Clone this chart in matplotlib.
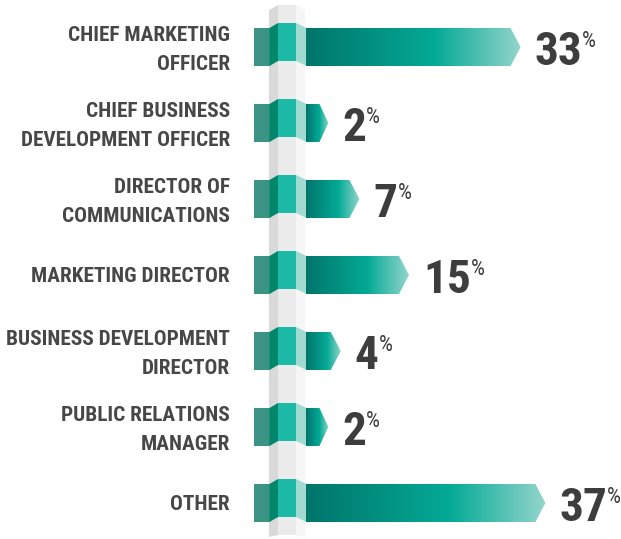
import matplotlib
matplotlib.use('Agg')
import matplotlib.pyplot as plt
import numpy as np
from matplotlib.patches import Polygon, Rectangle
from matplotlib.colors import LinearSegmentedColormap

plt.rcParams['font.family'] = ['Roboto Condensed', 'Liberation Sans Narrow', 'DejaVu Sans']
plt.rcParams['font.stretch'] = 'condensed'

## data
# -------------------------------------------------------------
roles = ['CHIEF MARKETING\nOFFICER',
         'CHIEF BUSINESS\nDEVELOPMENT OFFICER',
         'DIRECTOR OF\nCOMMUNICATIONS',
         'MARKETING DIRECTOR',
         'BUSINESS DEVELOPMENT\nDIRECTOR',
         'PUBLIC RELATIONS\nMANAGER',
         'OTHER']
shares = [33, 2, 7, 15, 4, 2, 37]
# -------------------------------------------------------------

W, H = 621, 539
fig = plt.figure(figsize=(W / 100, H / 100), dpi=100)
ax = fig.add_axes([0, 0, 1, 1])
ax.set_xlim(0, W)
ax.set_ylim(H, 0)
ax.axis('off')

# layout (pixels)
row0, row_step, half = 47, 76, 19
x_bar = 306
px_per_pct, px_min = 6.2, 10

grad = LinearSegmentedColormap.from_list(
    'bar', [(0, '#00756a'), (0.6, '#04aa96'), (1.0, '#93d5cb')])
text_col = '#474747'
num_col = '#3d3d3d'

# pillar behind the ribbons
top, bot = 5, 537
ax.add_patch(Polygon([(269, top + 5), (278, top), (278, bot - 2), (269, bot)],
                     closed=True, fc='#d9d9d9', ec='none', zorder=1))
ax.add_patch(Polygon([(278, top), (296, top), (296, bot - 2), (278, bot - 2)],
                     closed=True, fc='#ebebeb', ec='none', zorder=1))
ax.add_patch(Polygon([(296, top), (305, top + 5), (305, bot), (296, bot - 2)],
                     closed=True, fc='#f6f6f6', ec='none', zorder=1))

labels = []
for i, (role, pct) in enumerate(zip(roles, shares)):
    yc = row0 + i * row_step
    yt, yb = yc - half, yc + half
    # ribbon wrapped around the pillar
    ax.add_patch(Rectangle((254, yt), 16, 2 * half, fc='#3c9484', ec='none', zorder=2))
    ax.add_patch(Polygon([(269.5, yt), (278, yt - 5), (278, yb - 5), (269.5, yb)],
                         closed=True, fc='#00866b', ec='none', zorder=2))
    ax.add_patch(Rectangle((278, yt - 5), 18, 2 * half, fc='#1bb9a6', ec='none', zorder=2))
    ax.add_patch(Polygon([(296, yt - 5), (306.5, yt), (306.5, yb), (296, yb - 5)],
                         closed=True, fc='#a1dad0', ec='none', zorder=2))

    # gradient arrow
    length = px_min + pct * px_per_pct
    xe = x_bar + length
    tip = min(10, length / 2.5)
    arrow = Polygon([(x_bar, yt), (xe - tip, yt), (xe, yc), (xe - tip, yb), (x_bar, yb)],
                    closed=True, fc='none', ec='none')
    ax.add_patch(arrow)
    im = ax.imshow(np.linspace(0, 1, 256)[None, :], cmap=grad, aspect='auto',
                   extent=(x_bar, xe, yb, yt), interpolation='bilinear', zorder=3)
    im.set_clip_path(arrow)

    # value label
    num = ax.text(xe + 14, yc + 18, f'{pct}', ha='left', va='baseline',
                  fontsize=34, fontweight='bold', color=num_col, zorder=4)
    ax.annotate('%', xy=(1, 1), xycoords=num, xytext=(0, -1), textcoords='offset points',
                ha='left', va='top', fontsize=16, color=num_col, zorder=4)

    # category label
    lines = role.split('\n')
    if len(lines) == 1:
        labels.append(ax.text(230, yc + 7.5, lines[0], ha='right', va='baseline',
                              fontsize=20, fontweight='bold', color=text_col))
    else:
        labels.append(ax.text(230, yc - 6, lines[0], ha='right', va='baseline',
                              fontsize=20, fontweight='bold', color=text_col))
        labels.append(ax.text(230, yc + 23, lines[1], ha='right', va='baseline',
                              fontsize=20, fontweight='bold', color=text_col))

# shrink the labels if the font is wider than the reference's
fig.canvas.draw()
r = fig.canvas.get_renderer()
widest = max(t.get_window_extent(r).width for t in labels)
if widest > 224:
    for t in labels:
        t.set_fontsize(20 * 224 / widest)

ax.set_xlim(0, W)
ax.set_ylim(H, 0)
fig.savefig('out.png', dpi=100)
